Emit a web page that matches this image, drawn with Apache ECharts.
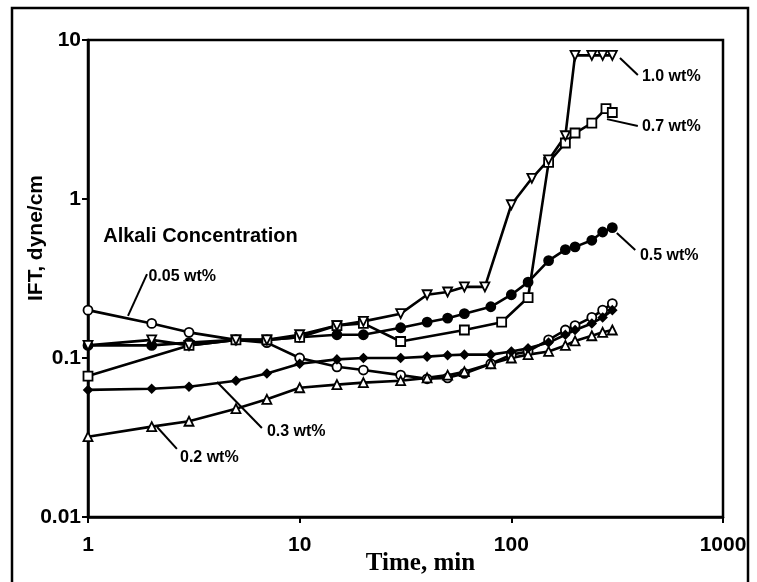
<!DOCTYPE html>
<html>
<head>
<meta charset="utf-8">
<script src="https://cdn.jsdelivr.net/npm/echarts@6/dist/echarts.min.js"></script>
<style>
  html, body { margin: 0; padding: 0; background: #fff; }
  #main { width: 757px; height: 582px; }
</style>
</head>
<body>
<div id="main"></div>
<script>
// time (min) and IFT (dyne/cm)
var tA = [1, 2, 3, 5, 7, 10, 15, 20, 30, 40, 50, 60, 80, 100, 120, 150, 180, 200, 240, 270, 300];

var ift005 = [0.2, 0.165, 0.145, 0.13, 0.125, 0.1, 0.088, 0.084, 0.078, 0.074, 0.075, 0.08, 0.092, 0.105, 0.11, 0.13, 0.15, 0.16, 0.18, 0.2, 0.22];
var ift02 = [0.032, 0.037, 0.04, 0.048, 0.055, 0.065, 0.068, 0.07, 0.072, 0.075, 0.078, 0.082, 0.092, 0.1, 0.105, 0.11, 0.12, 0.128, 0.138, 0.145, 0.15];
var ift03 = [0.063, 0.064, 0.066, 0.072, 0.08, 0.092, 0.098, 0.1, 0.1, 0.102, 0.104, 0.105, 0.105, 0.11, 0.115, 0.125, 0.14, 0.15, 0.165, 0.18, 0.2];
var ift05 = [0.12, 0.12, 0.125, 0.13, 0.13, 0.135, 0.14, 0.14, 0.155, 0.168, 0.178, 0.19, 0.21, 0.25, 0.3, 0.41, 0.48, 0.5, 0.55, 0.62, 0.66];

var t07 = [1, 3, 5, 7, 10, 15, 20, 30, 60, 90, 120, 150, 180, 200, 240, 280, 300];
var ift07 = [0.077, 0.12, 0.13, 0.13, 0.135, 0.16, 0.165, 0.127, 0.15, 0.168, 0.24, 1.7, 2.25, 2.6, 3.0, 3.7, 3.5];

var t10 = [1, 2, 3, 5, 7, 10, 15, 20, 30, 40, 50, 60, 75, 100, 125, 150, 180, 200, 240, 270, 300];
var ift10 = [0.12, 0.13, 0.12, 0.13, 0.13, 0.14, 0.16, 0.17, 0.19, 0.25, 0.26, 0.28, 0.28, 0.92, 1.35, 1.76, 2.5, 8.0, 8.0, 8.0, 8.0];

var xTicks = [1, 10, 100, 1000];
var yTicks = {10: '10', 1: '1', 0.1: '0.1', 0.01: '0.01'};

// text labels: [text, t, ift, size] and leader lines [t1, v1, t2, v2]
var notes = [
  ['Alkali Concentration', 1.18, 0.58, 20],
  ['0.05 wt%', 1.93, 0.323, 16],
  ['0.3 wt%', 7.0, 0.0343, 16],
  ['0.2 wt%', 2.72, 0.0238, 16],
  ['1.0 wt%', 414, 5.85, 16],
  ['0.7 wt%', 414, 2.84, 16],
  ['0.5 wt%', 405, 0.44, 16]
];
var leaders = [
  [1.9, 0.337, 1.545, 0.184],
  [4.07, 0.0706, 6.63, 0.0363],
  [2.12, 0.0368, 2.63, 0.0268],
  [326, 7.71, 396, 6.03],
  [283, 3.18, 396, 2.88],
  [315, 0.611, 385, 0.478]
];

function pairs(ts, vs) {
  var out = [];
  for (var i = 0; i < ts.length; i++) out.push([ts[i], vs[i]]);
  return out;
}

function mkSeries(name, data, symbol, filled, rotate) {
  return {
    name: name,
    type: 'line',
    data: data,
    symbol: symbol,
    symbolSize: symbol === 'diamond' ? 8 : 9,
    symbolRotate: rotate || 0,
    lineStyle: { color: '#000', width: 2.6 },
    itemStyle: { color: filled ? '#000' : '#fff', borderColor: '#000', borderWidth: 1.8 },
    animation: false
  };
}

var chart = echarts.init(document.getElementById('main'));
var boldFont = 'Liberation Sans';

chart.setOption({
  backgroundColor: '#fff',
  animation: false,
  grid: {
    left: 88, top: 40, width: 635, height: 477,
    outerBoundsMode: 'none', containLabel: false,
    show: true, borderColor: '#000', borderWidth: 2.5, backgroundColor: 'transparent'
  },
  xAxis: {
    type: 'log', logBase: 10, min: 1, max: 1000,
    name: 'Time, min', nameLocation: 'middle', nameGap: 34, nameMoveOverlap: false,
    nameTextStyle: { fontFamily: 'Liberation Serif', fontWeight: 'bold', fontSize: 25, color: '#000', padding: [0, 0, 0, 30] },
    axisLine: { lineStyle: { color: '#000', width: 2.5 } },
    axisTick: { inside: false, length: 6, lineStyle: { color: '#000', width: 2 } },
    minorTick: { show: false },
    splitLine: { show: false },
    axisLabel: {
      color: '#000', fontFamily: boldFont, fontWeight: 'bold', fontSize: 21, margin: 18,
      formatter: function (v) { return xTicks.indexOf(Math.round(v)) >= 0 ? String(Math.round(v)) : ''; }
    }
  },
  yAxis: {
    type: 'log', logBase: 10, min: 0.01, max: 10,
    axisLine: { lineStyle: { color: '#000', width: 2.5 } },
    axisTick: { inside: false, length: 6, lineStyle: { color: '#000', width: 2 } },
    splitLine: { show: false },
    axisLabel: {
      color: '#000', fontFamily: boldFont, fontWeight: 'bold', fontSize: 21, margin: 7,
      formatter: function (v) {
        var k = Math.round(Math.log10(v));
        return yTicks[Math.pow(10, k)] || String(v);
      }
    }
  },
  series: [
    mkSeries('0.05 wt%', pairs(tA, ift005), 'circle', false),
    mkSeries('0.2 wt%', pairs(tA, ift02), 'triangle', false),
    mkSeries('0.3 wt%', pairs(tA, ift03), 'diamond', true),
    mkSeries('0.5 wt%', pairs(tA, ift05), 'circle', true),
    mkSeries('0.7 wt%', pairs(t07, ift07), 'rect', false),
    mkSeries('1.0 wt%', pairs(t10, ift10), 'triangle', false, 180)
  ]
});

// annotations placed through the axes
var g = [
  { type: 'rect', id: 'frame', z: -1, shape: { x: 12, y: 8, width: 736, height: 620 },
    style: { fill: 'none', stroke: '#000', lineWidth: 2.5 } },
  { type: 'text', id: 'yname', x: 36, y: 238, rotation: Math.PI / 2,
    style: { text: 'IFT, dyne/cm', fill: '#000', font: 'bold 21px "Liberation Sans"', textAlign: 'center', textVerticalAlign: 'middle' } }
];
notes.forEach(function (n, i) {
  var p = chart.convertToPixel({ gridIndex: 0 }, [n[1], n[2]]);
  g.push({ type: 'text', id: 'note' + i, x: p[0], y: p[1],
    style: { text: n[0], fill: '#000', font: 'bold ' + n[3] + 'px "Liberation Sans"', textAlign: 'left', textVerticalAlign: 'middle' } });
});
leaders.forEach(function (l, i) {
  var a = chart.convertToPixel({ gridIndex: 0 }, [l[0], l[1]]);
  var b = chart.convertToPixel({ gridIndex: 0 }, [l[2], l[3]]);
  g.push({ type: 'line', id: 'lead' + i, shape: { x1: a[0], y1: a[1], x2: b[0], y2: b[1] },
    style: { stroke: '#000', lineWidth: 2 } });
});
chart.setOption({ graphic: g });
</script>
</body>
</html>
